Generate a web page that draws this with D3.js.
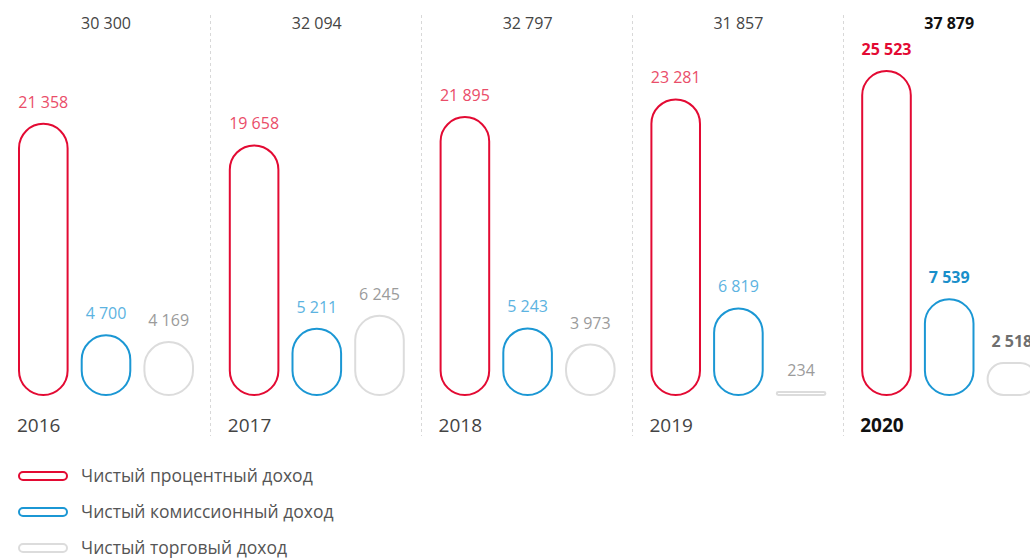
<!DOCTYPE html>
<html lang="ru">
<head>
<meta charset="utf-8">
<title>Доходы</title>
<script src="https://d3js.org/d3.v7.min.js"></script>
<style>
  * { margin: 0; padding: 0; }
  body { background: #fff; font-family: 'Open Sans', sans-serif; }
  svg { display: block; }
</style>
</head>
<body>
<div id="chart"></div>
<script>
// data
var years = ["2016", "2017", "2018", "2019", "2020"];
var totals = [30300, 32094, 32797, 31857, 37879];
var interest = [21358, 19658, 21895, 23281, 25523];
var commission = [4700, 5211, 5243, 6819, 7539];
var trading = [4169, 6245, 3973, 234, 2518];
var seriesNames = ["Чистый процентный доход", "Чистый комиссионный доход", "Чистый торговый доход"];

var strokeColors = ["#e30a33", "#1b97d4", "#dcdcdc"];
var labelColors = ["#ea4d69", "#5cb3e1", "#9b9b9b"];
var labelColorsBold = ["#e30a33", "#1a8fca", "#6f6f6f"];

var width = 1030, height = 558;
var fmt = function (v) { return d3.format(",")(v).replace(/,/g, " "); };

var svg = d3.select("#chart").append("svg")
    .attr("width", width)
    .attr("height", height);

var x0 = d3.scaleBand().domain(years).range([0, 1054]);
var x1 = d3.scaleBand().domain([0, 1, 2]).range([19, 19 + 174]).paddingInner(0.225);
var y = d3.scaleLinear().domain([0, 25523]).range([395, 71]);

var series = [interest, commission, trading];

// separators
svg.selectAll("line.sep")
    .data(years.slice(1))
    .enter().append("line")
    .attr("class", "sep")
    .attr("x1", function (d) { return Math.round(x0(d) - 0.5) + 0.5; })
    .attr("x2", function (d) { return Math.round(x0(d) - 0.5) + 0.5; })
    .attr("y1", 15)
    .attr("y2", 436)
    .style("stroke", "#d8d8d8")
    .style("stroke-width", 1)
    .style("stroke-dasharray", "3,3");

var groups = svg.selectAll("g.year")
    .data(years)
    .enter().append("g")
    .attr("class", "year")
    .attr("transform", function (d) { return "translate(" + x0(d) + ",0)"; });

groups.each(function (yr, i) {
    var g = d3.select(this);
    var last = i === years.length - 1;
    series.forEach(function (s, k) {
        var v = s[i];
        var h = y(0) - y(v);
        var w = x1.bandwidth();
        g.append("rect")
            .attr("x", x1(k))
            .attr("y", y(v))
            .attr("width", w)
            .attr("height", h)
            .attr("rx", Math.min(w / 2, h / 2))
            .style("fill", "none")
            .style("stroke", strokeColors[k])
            .style("stroke-width", 2);
        g.append("text")
            .attr("x", x1(k) + w / 2)
            .attr("y", y(v) - 16)
            .attr("text-anchor", "middle")
            .style("font-size", "16px")
            .style("font-weight", last ? 700 : 400)
            .style("fill", last ? labelColorsBold[k] : labelColors[k])
            .text(fmt(v));
    });
    // total
    g.append("text")
        .attr("x", x1(1) + x1.bandwidth() / 2)
        .attr("y", 29)
        .attr("text-anchor", "middle")
        .style("font-size", "16px")
        .style("font-weight", last ? 700 : 400)
        .style("fill", last ? "#111" : "#444")
        .text(fmt(totals[i]));
    // year
    g.append("text")
        .attr("x", 17)
        .attr("y", 432)
        .style("font-size", "19px")
        .style("font-weight", last ? 700 : 400)
        .style("fill", last ? "#111" : "#444")
        .text(yr);
});

// legend
var legend = svg.selectAll("g.legend")
    .data(seriesNames)
    .enter().append("g")
    .attr("class", "legend")
    .attr("transform", function (d, i) { return "translate(0," + (476 + i * 36) + ")"; });

legend.append("rect")
    .attr("x", 19)
    .attr("y", -4)
    .attr("width", 48)
    .attr("height", 8)
    .attr("rx", 4)
    .style("fill", "none")
    .style("stroke", function (d, i) { return strokeColors[i]; })
    .style("stroke-width", 2);

legend.append("text")
    .attr("x", 81)
    .attr("y", 6)
    .style("font-size", "17.5px")
    .style("fill", "#555")
    .text(function (d) { return d; });
</script>
</body>
</html>
